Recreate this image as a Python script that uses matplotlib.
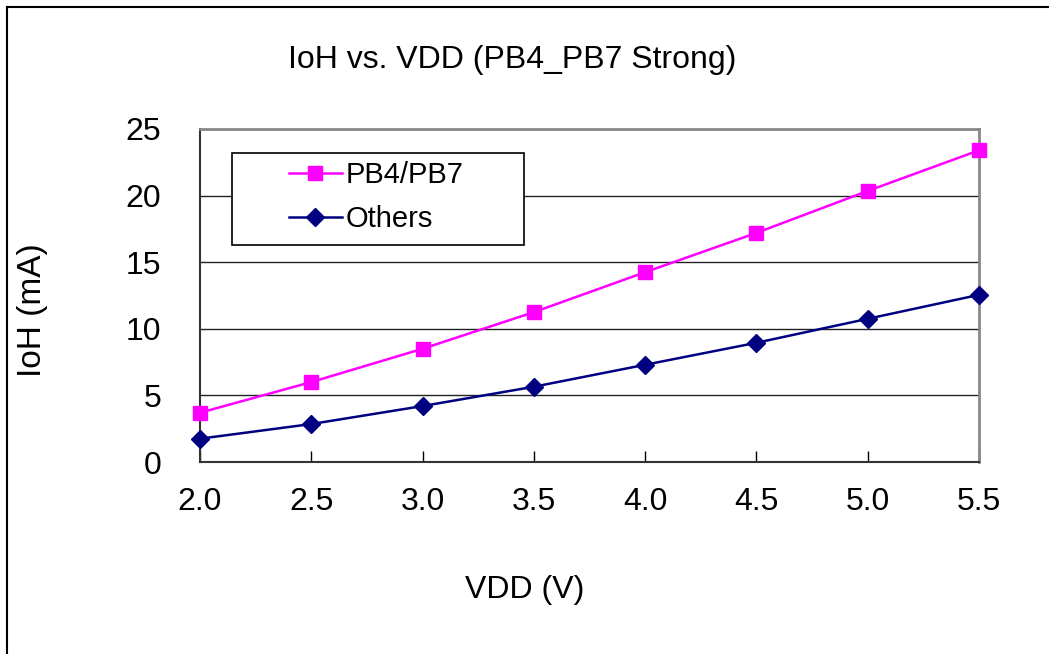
import numpy as np
import matplotlib.pyplot as plt
from matplotlib.lines import Line2D
from matplotlib.patches import Rectangle

plt.rcParams['font.family'] = ['Liberation Sans', 'DejaVu Sans']

vdd = [2.0, 2.5, 3.0, 3.5, 4.0, 4.5, 5.0, 5.5]
ioh_pb4_pb7 = [3.7, 6.0, 8.5, 11.25, 14.25, 17.2, 20.35, 23.4]
ioh_others = [1.75, 2.85, 4.2, 5.65, 7.3, 8.95, 10.75, 12.55]

xticks = [2.0, 2.5, 3.0, 3.5, 4.0, 4.5, 5.0, 5.5]
yticks = [0, 5, 10, 15, 20, 25]

W, H = 1049, 654
fig = plt.figure(figsize=(W/100, H/100), dpi=100)
ax = fig.add_axes([200/W, 1-462/H, (979-200)/W, (462-129)/H])

# frame of the chart object (top and left visible)
fig.add_artist(Line2D([7/W, 7/W], [0, 1-7/H], color='black', lw=1.5))
fig.add_artist(Line2D([7/W, 1], [1-7/H, 1-7/H], color='black', lw=1.5))

ax.plot(vdd, ioh_pb4_pb7, color='#ff00ff', marker='s', markersize=10, lw=1.8,
        label='PB4/PB7', zorder=3, clip_on=False)
ax.plot(vdd, ioh_others, color='#000080', marker='D', markersize=9, lw=1.8,
        label='Others', zorder=3, clip_on=False)

ax.set_xlim(2.0, 5.5)
ax.set_ylim(0, 25)
ax.set_xticks(xticks)
ax.set_xticklabels([f'{v:.1f}' for v in xticks])
ax.set_yticks(yticks)
ax.yaxis.grid(True, color='#222222', lw=1)
ax.set_axisbelow(True)

for s in ['top', 'right']:
    ax.spines[s].set_color('#888888')
    ax.spines[s].set_linewidth(2)
for s in ['left', 'bottom']:
    ax.spines[s].set_color('#333333')
    ax.spines[s].set_linewidth(1.5)

ax.tick_params(axis='x', direction='in', length=8, width=1, pad=18, labelsize=23)
ax.tick_params(axis='y', direction='out', length=0, pad=28, labelsize=23)

fig.text(512/W, 1-60/H, 'IoH vs. VDD (PB4_PB7 Strong)', ha='center', va='center', fontsize=23)
fig.text(525/W, 1-590/H, 'VDD (V)', ha='center', va='center', fontsize=23)
fig.text(32/W, 1-310/H, 'IoH (mA)', ha='center', va='center', rotation=90, fontsize=24)

# legend box
fig.add_artist(Rectangle((232/W, 1-245/H), (524-232)/W, (245-153)/H, transform=fig.transFigure,
                         facecolor='white', edgecolor='black', lw=1.2, zorder=4))
leg = fig.legend(*ax.get_legend_handles_labels(), loc='upper left',
                 bbox_to_anchor=(289/W, 1-161/H), bbox_transform=fig.transFigure,
                 fontsize=21, frameon=False, borderaxespad=0, borderpad=0,
                 handlelength=1.8, labelspacing=0.55, handletextpad=0.15)
leg.set_zorder(5)

fig.savefig('out.png', dpi=100)
